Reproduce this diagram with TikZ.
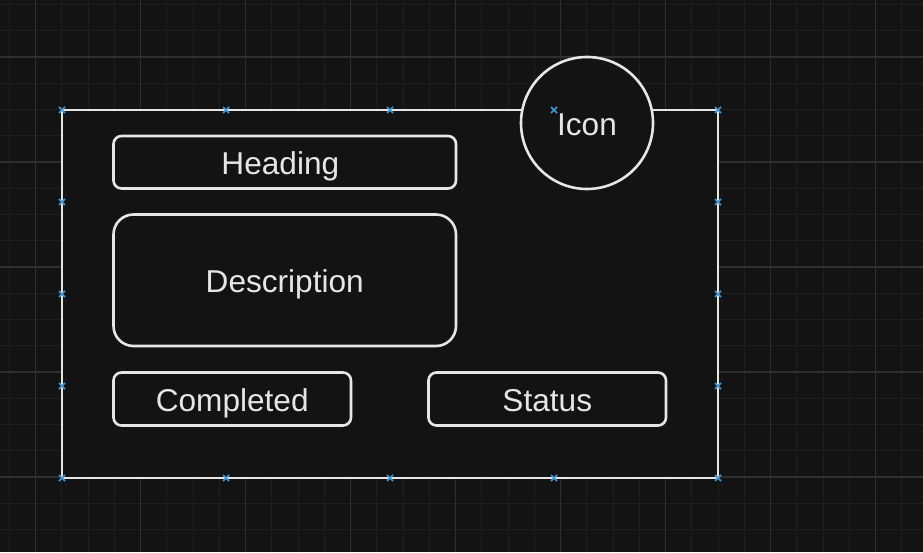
\documentclass[tikz,border=0pt]{standalone}
\usepackage{fontspec}
\setmainfont{Liberation Sans}
\usetikzlibrary{positioning,calc}
\definecolor{canvas}{HTML}{131313}
\definecolor{gridminor}{HTML}{1F1F1F}
\definecolor{gridmajor}{HTML}{2F2F2F}
\definecolor{ink}{HTML}{E6E6E6}
\definecolor{handleblue}{HTML}{3D9BDB}
\newcommand{\handle}[1]{\draw[handle] #1 ++(-3pt,-3pt) -- ++(6pt,6pt) ++(-6pt,0pt) -- ++(6pt,-6pt);}

\begin{document}
\begin{tikzpicture}[x=1pt,y=1pt,
        every node/.style={font=\fontsize{31.6}{36}\selectfont,text=ink,text height=25.5pt,text depth=0pt,outer sep=0pt,inner sep=0pt},
        frame/.style={draw=ink,fill=canvas,line width=2.6pt},
        block/.style={frame,rectangle,rounded corners=8pt,minimum height=53pt},
        handle/.style={draw=handleblue,line width=1.7pt}]
   \fill[canvas] (0,0) rectangle (923,552);
   \useasboundingbox (0,0) rectangle (923,552);
   \foreach \i in {0,...,34} \draw[gridminor,line width=1pt] ({9.45+26.25*\i},0) -- ++(0,552);
   \foreach \i in {0,...,20} \draw[gridminor,line width=1pt] (0,{547.5-26.25*\i}) -- ++(923,0);
   \foreach \i in {1,5,...,33} \draw[gridmajor,line width=1.3pt] ({9.45+26.25*\i},0) -- ++(0,552);
   \foreach \i in {2,6,...,18} \draw[gridmajor,line width=1.3pt] (0,{547.5-26.25*\i}) -- ++(923,0);

   \node[frame,rectangle,minimum width=656pt,minimum height=368pt] (card) at (390,258) {};
   \node[circle,frame,minimum size=132pt] (icon) at (587,429) {Icon};

   \node[block,minimum width=342.5pt,minimum height=52.5pt,below right=26pt and 51.5pt of card.north west] (head) {Heading\kern8.8pt};
   \node[block,rounded corners=20pt,minimum width=342.5pt,minimum height=131.5pt,below=26pt of head] (desc) {Description};
   \node[block,minimum width=237.5pt,below=26.5pt of desc.south west,anchor=north west] (done) {Completed};
   \node[block,minimum width=237.5pt,right=77.5pt of done] (stat) {Status};

   \foreach \f in {0,0.25,0.5,0.75,1} {
      \handle{($(card.north west)!\f!(card.north east)$)}
      \handle{($(card.south west)!\f!(card.south east)$)}
   }
   \foreach \f in {0.25,0.5,0.75} {
      \handle{($(card.north west)!\f!(card.south west)$)}
      \handle{($(card.north east)!\f!(card.south east)$)}
   }
\end{tikzpicture}
\end{document}
